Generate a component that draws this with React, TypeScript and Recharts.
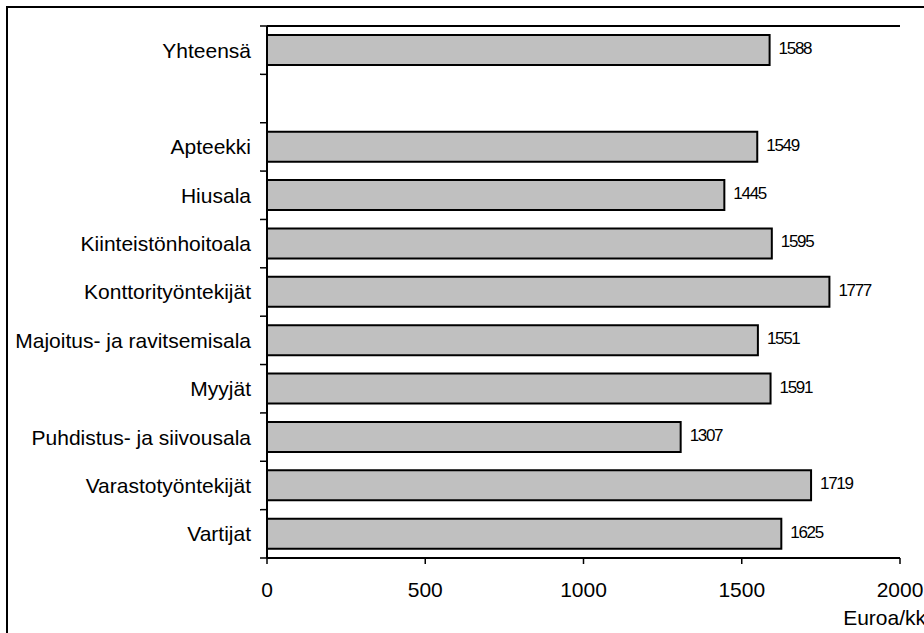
import React from 'react';
import { BarChart, Bar, XAxis, YAxis, LabelList, ReferenceLine } from 'recharts';

const categories = [
  'Yhteensä',
  '',
  'Apteekki',
  'Hiusala',
  'Kiinteistönhoitoala',
  'Konttorityöntekijät',
  'Majoitus- ja ravitsemisala',
  'Myyjät',
  'Puhdistus- ja siivousala',
  'Varastotyöntekijät',
  'Vartijat',
];
const values: (number | null)[] = [1588, null, 1549, 1445, 1595, 1777, 1551, 1591, 1307, 1719, 1625];
const xTicks = [0, 500, 1000, 1500, 2000];
const unitLabel = 'Euroa/kk';

const data = categories.map((name, i) => ({ name, value: values[i] }));

const FONT = '"Liberation Sans", Arial, sans-serif';
const CHART_W = 940;
const CHART_H = 625;
const MARGIN = { top: 18, right: 48, bottom: 15, left: 0 };
const X_AXIS_H = 60;
const TICK_SIZE = 7;
const TICK_MARGIN = 9;
const BAND = (CHART_H - MARGIN.top - MARGIN.bottom - X_AXIS_H) / categories.length;

const CategoryTick = (props: any) => {
  const { x, y, payload, index } = props;
  const axisX = Number(x) + TICK_MARGIN + TICK_SIZE;
  const last = index === categories.length - 1;
  return (
    <g>
      <line x1={axisX - TICK_SIZE} x2={axisX} y1={y - BAND / 2} y2={y - BAND / 2} stroke="#000" strokeWidth={1.5} />
      {last && (
        <line x1={axisX - TICK_SIZE} x2={axisX} y1={y + BAND / 2} y2={y + BAND / 2} stroke="#000" strokeWidth={1.5} />
      )}
      <text
        x={x}
        y={y}
        dy="0.355em"
        textAnchor="end"
        fontFamily={FONT}
        fontSize={21}
        fill="#000"
      >
        {payload.value}
      </text>
    </g>
  );
};

const ValueLabel = (props: any) => {
  const { x, y, width, height, value } = props;
  if (value === null || value === undefined) return null;
  return (
    <text
      x={Number(x) + Number(width) + 9}
      y={Number(y) + Number(height) / 2 + 4}
      fontFamily={FONT}
      fontSize={17}
      letterSpacing={-1.3}
      fill="#000"
    >
      {value}
    </text>
  );
};

const UnitLabel = (props: any) => {
  const vb = props.viewBox || {};
  return (
    <text
      x={vb.x + vb.width + 26}
      y={vb.y + 67}
      textAnchor="end"
      fontFamily={FONT}
      fontSize={21}
      fill="#000"
    >
      {unitLabel}
    </text>
  );
};

export default function App() {
  return (
    <div
      style={{
        position: 'fixed',
        left: 6,
        top: 6,
        width: 918,
        height: 627,
        overflow: 'hidden',
        borderLeft: '2px solid #000',
        borderTop: '2px solid #000',
        background: '#fff',
      }}
    >
      <BarChart
        width={CHART_W}
        height={CHART_H}
        data={data}
        layout="vertical"
        margin={MARGIN}
        style={{ fontFamily: FONT }}
      >
        <XAxis
          type="number"
          domain={[0, 2000]}
          ticks={xTicks}
          allowDataOverflow
          height={X_AXIS_H}
          tickSize={6}
          tickMargin={18}
          tick={{ fontSize: 21, fill: '#000', fontFamily: FONT }}
          axisLine={{ stroke: '#000', strokeWidth: 2 }}
          tickLine={{ stroke: '#000', strokeWidth: 1.5 }}
          label={<UnitLabel />}
        />
        <YAxis
          type="category"
          dataKey="name"
          orientation="left"
          width={259}
          tickSize={TICK_SIZE}
          tickMargin={TICK_MARGIN}
          tickLine={false}
          axisLine={{ stroke: '#000', strokeWidth: 2 }}
          interval={0}
          tick={<CategoryTick />}
        />
        <YAxis
          yAxisId="right"
          type="category"
          dataKey="name"
          orientation="right"
          width={0}
          tick={false}
          tickLine={false}
          axisLine={{ stroke: '#000', strokeWidth: 2 }}
        />
        <ReferenceLine
          y={categories[0]}
          position="start"
          stroke="#000"
          strokeWidth={2}
          ifOverflow="visible"
        />
        <Bar
          dataKey="value"
          fill="#C0C0C0"
          stroke="#000"
          strokeWidth={2}
          barSize={30}
          isAnimationActive={false}
        >
          <LabelList dataKey="value" content={<ValueLabel />} />
        </Bar>
      </BarChart>
    </div>
  );
}
